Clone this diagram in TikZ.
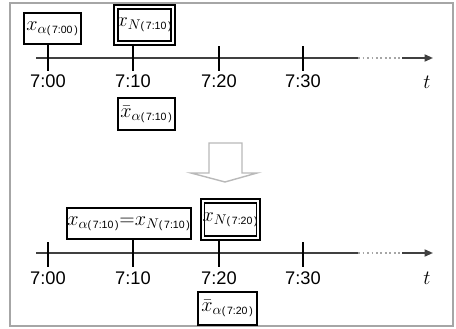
\documentclass[tikz,border=0pt]{standalone}
\usepackage{amsmath}
\usepackage{fontspec}
\setmainfont{Liberation Sans}
\usetikzlibrary{arrows.meta,positioning,calc}
\newcommand{\tstamp}[1]{\text{\fontsize{7.5}{8}\selectfont(\,#1\,)}}

\begin{document}
\begin{tikzpicture}[
  x=0.025cm, y=-0.025cm,
  obs/.style={rectangle, draw=black, line width=1.4pt, fill=white,
              inner sep=0pt, font=\Large},
  nbox/.style={rectangle, draw=black, double=white, double distance=1.4pt,
               line width=1.3pt, fill=white, inner sep=0pt, font=\Large},
  tk/.style={line width=1.7pt},
  axis/.style={line width=1.2pt, black!75},
  lbl/.style={font=\fontsize{13}{15}\selectfont, inner sep=0pt}
]
  \useasboundingbox (0,0) rectangle (456,329);
  \draw[gray!70, line width=0.9pt] (10,3) rectangle (453,326);

  % upper time line
  \coordinate (s1) at (36,58);
  \coordinate (d1a) at (358,58);
  \coordinate (d1b) at (402,58);
  \coordinate (e1) at (433,58);
  \draw[axis] (s1) -- (d1a);
  \draw[axis, black!35, dotted] (d1a) -- (d1b);
  \draw[axis, -{Triangle[length=6pt,width=5pt]}] (d1b) -- (e1);
  \foreach \x/\lab [count=\i] in {48/7:00,133/7:10,219/7:20,303/7:30} {
    \coordinate (v\i) at (\x,46);
    \coordinate (u\i) at (\x,71);
    \node[lbl] (ul\i) at (\x,81) {\lab};
  }
  \node[font=\Large] (t1) at (427,82) {$t$};

  \node[obs, minimum width=1.43cm, minimum height=0.78cm] (a700) at (52.5,28.5)
    {$x_{\alpha\tstamp{7:00}}$};
  \node[nbox, minimum width=1.42cm, minimum height=0.9cm] (n710) at (144.5,25)
    {$x_{N\tstamp{7:10}}$};
  \node[obs, minimum width=1.43cm, minimum height=0.8cm] (bar710) at (146.5,114)
    {$\bar{x}_{\alpha\tstamp{7:10}}$};

  \draw[tk] (a700.south -| u1) -- (u1);
  \draw[tk] (n710.south -| u2) -- (u2);
  \draw[tk] (v3) -- (u3);
  \draw[tk] (v4) -- (u4);

  % hollow arrow
  \draw[gray!55, line width=1pt, fill=white] (209,143) -- (242,143) -- (242,173)
    -- (257,173) -- (225,182) -- (191,173) -- (209,173) -- cycle;

  % lower time line
  \coordinate (s2) at (36,253);
  \coordinate (d2a) at (358,253);
  \coordinate (d2b) at (402,253);
  \coordinate (e2) at (433,253);
  \draw[axis] (s2) -- (d2a);
  \draw[axis, black!35, dotted] (d2a) -- (d2b);
  \draw[axis, -{Triangle[length=6pt,width=5pt]}] (d2b) -- (e2);
  \foreach \x/\lab [count=\i] in {48/7:00,133/7:10,219/7:20,303/7:30} {
    \coordinate (p\i) at (\x,242);
    \coordinate (q\i) at (\x,267);
    \node[lbl] (ql\i) at (\x,278) {\lab};
  }
  \node[font=\Large] (t2) at (427,278) {$t$};

  \node[obs, minimum width=2.95cm, minimum height=0.78cm] (eq710) at (129,223.5)
    {$x_{\alpha\tstamp{7:10}}{=}x_{N\tstamp{7:10}}$};
  \node[nbox, minimum width=1.38cm, minimum height=0.92cm] (n720) at (230.5,219.5)
    {$x_{N\tstamp{7:20}}$};
  \node[obs, minimum width=1.48cm, minimum height=0.83cm] (bar720) at (227.5,308.5)
    {$\bar{x}_{\alpha\tstamp{7:20}}$};

  \draw[tk] (p1) -- (q1);
  \draw[tk] (eq710.south -| q2) -- (q2);
  \draw[tk] (n720.south -| q3) -- (q3);
  \draw[tk] (p4) -- (q4);
\end{tikzpicture}
\end{document}
